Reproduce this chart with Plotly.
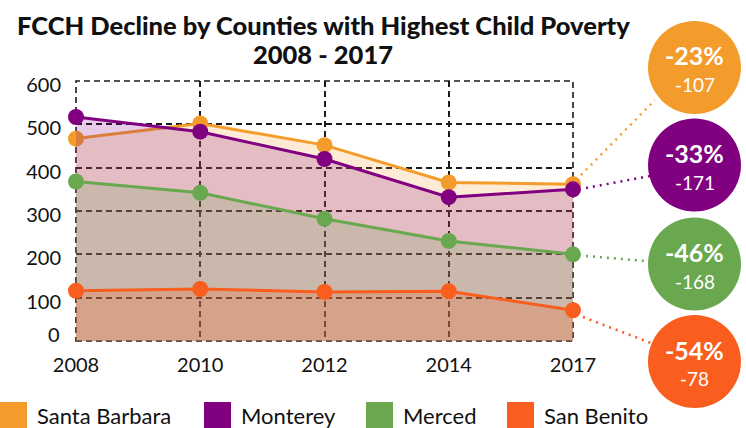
import plotly.graph_objects as go

years = ["2008", "2010", "2012", "2014", "2017"]
santa_barbara = [467, 502, 452, 366, 362]
monterey = [517, 483, 420, 332, 350]
merced = [368, 342, 282, 231, 200]
san_benito = [116, 120, 113, 115, 71]

series_names = ["Santa Barbara", "Monterey", "Merced", "San Benito"]
pct_labels = ["-23%", "-33%", "-46%", "-54%"]
diff_labels = ["-107", "-171", "-168", "-78"]
title_lines = ["FCCH Decline by Counties with Highest Child Poverty", "2008 - 2017"]
y_ticks = [0, 100, 200, 300, 400, 500, 600]

colors = ["#F39C2C", "#800080", "#6AA84F", "#F95E1E"]
fills = ["rgba(243,156,44,0.2)", "rgba(128,0,128,0.2)",
         "rgba(106,168,79,0.21)", "rgba(249,94,30,0.23)"]
all_series = [santa_barbara, monterey, merced, san_benito]

FONT = "Lato"

fig = go.Figure()
for name, vals, c, fc in zip(series_names, all_series, colors, fills):
    fig.add_trace(go.Scatter(
        x=years, y=vals, name=name, mode="lines+markers",
        line=dict(color=c, width=3),
        marker=dict(color=c, size=16),
        fill="tozeroy", fillcolor=fc, cliponaxis=False,
        showlegend=False,
    ))

# plot area geometry (pixels) used for paper conversion of decorations
L, R, T, B = 76, 573, 81, 341
W, H = 746, 428
def px(x):
    return (x - L) / (R - L)
def py(y):
    return (B - y) / (B - T)

shapes = []
annotations = []

# dashed border of plot area
shapes.append(dict(type="rect", xref="paper", yref="paper", x0=0, x1=1, y0=0, y1=1,
                   line=dict(color="#1a1a1a", width=1.6, dash="6px,4px"), layer="below"))

# callout circles
circle_centers = [(694.5, 67.5), (694.5, 165), (694.5, 264), (694.5, 361.5)]
radius = 46.5
connector_ends = [((581, 175), (655, 100)), ((586, 188), (650, 176)),
                  ((586, 256), (646, 261)), ((583, 317), (651, 343))]
for (cx, cy), c, pct, dl, (p0, p1) in zip(circle_centers, colors, pct_labels,
                                          diff_labels, connector_ends):
    shapes.append(dict(type="line", xref="paper", yref="paper",
                       x0=px(p0[0]), y0=py(p0[1]), x1=px(p1[0]), y1=py(p1[1]),
                       line=dict(color=c, width=2.5, dash="2px,5px")))
    shapes.append(dict(type="circle", xref="paper", yref="paper",
                       x0=px(cx - radius), x1=px(cx + radius),
                       y0=py(cy + radius), y1=py(cy - radius),
                       fillcolor=c, line=dict(width=0), layer="above"))
    annotations.append(dict(xref="paper", yref="paper", x=px(cx), y=py(cy - 12),
                            text="<b>%s</b>" % pct, showarrow=False,
                            xanchor="center", yanchor="middle",
                            font=dict(family=FONT, size=25, color="white")))
    annotations.append(dict(xref="paper", yref="paper", x=px(cx), y=py(cy + 17),
                            text=dl, showarrow=False,
                            xanchor="center", yanchor="middle",
                            font=dict(family=FONT, size=19, color="white")))

# title (two centred lines)
annotations.append(dict(xref="paper", yref="paper", x=px(323), y=py(25),
                        text=title_lines[0], showarrow=False,
                        xanchor="center", yanchor="middle",
                        font=dict(family=FONT, size=25.5, color="#111", weight=900)))
annotations.append(dict(xref="paper", yref="paper", x=px(323), y=py(54),
                        text=title_lines[1], showarrow=False,
                        xanchor="center", yanchor="middle",
                        font=dict(family=FONT, size=25.5, color="#111", weight=900)))

# the "0" y label sits a little higher in the reference to clear the x labels
annotations.append(dict(xref="paper", yref="paper", x=px(62), y=py(334),
                        text=str(y_ticks[0]), showarrow=False,
                        xanchor="right", yanchor="middle",
                        font=dict(family=FONT, size=20, color="#111")))

# manual legend
legend_sq_x = [0, 204, 366, 507]
for name, c, sx in zip(series_names, colors, legend_sq_x):
    shapes.append(dict(type="rect", xref="paper", yref="paper",
                       x0=px(sx), x1=px(sx + 27), y0=py(429), y1=py(402),
                       fillcolor=c, line=dict(width=0)))
    annotations.append(dict(xref="paper", yref="paper", x=px(sx + 35), y=py(416),
                            text=name, showarrow=False,
                            xanchor="left", yanchor="middle",
                            font=dict(family=FONT, size=22, color="#111")))

fig.update_layout(
    width=W, height=H,
    margin=dict(l=L, r=W - R, t=T, b=H - B),
    paper_bgcolor="white", plot_bgcolor="white",
    shapes=shapes, annotations=annotations,
    showlegend=False,
    font=dict(family=FONT, color="#111"),
)
fig.update_xaxes(type="category", range=[0, 4], showgrid=True,
                 gridcolor="#1a1a1a", gridwidth=1.6, griddash="6px,4px",
                 showline=False, zeroline=False,
                 ticks="outside", ticklen=6, tickcolor="rgba(0,0,0,0)",
                 tickfont=dict(family=FONT, size=20, color="#111"))
fig.update_yaxes(range=[0, 600], tickvals=y_ticks,
                 ticktext=[""] + [str(v) for v in y_ticks[1:]],
                 showgrid=True,
                 gridcolor="#1a1a1a", gridwidth=1.6, griddash="6px,4px",
                 showline=False, zeroline=False,
                 ticks="outside", ticklen=10, tickcolor="rgba(0,0,0,0)",
                 ticklabelshift=4,
                 tickfont=dict(family=FONT, size=20, color="#111"))

fig.write_html("out.html", config={"displayModeBar": False},
               post_script="document.body.style.margin='0';document.body.style.overflow='hidden';")
